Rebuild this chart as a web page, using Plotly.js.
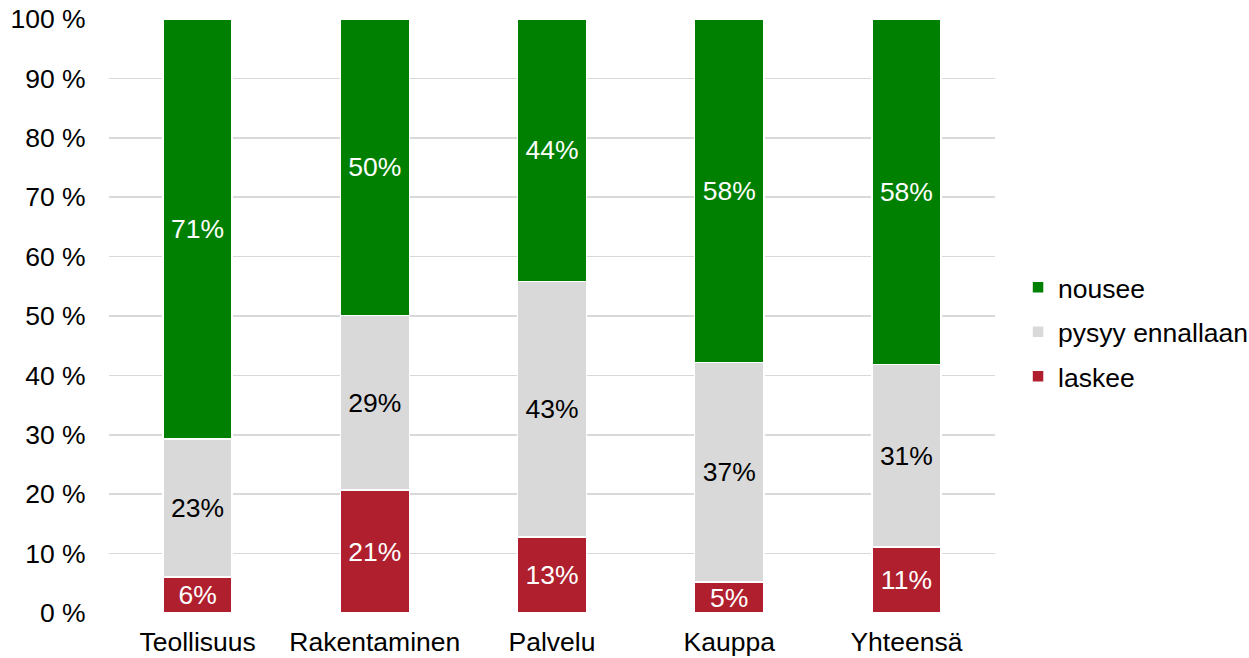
<!DOCTYPE html>
<html>
<head>
<meta charset="utf-8">
<script src="https://cdn.plot.ly/plotly-3.0.1.min.js"></script>
<style>html,body{margin:0;padding:0;background:#fff;}#chart{width:1249px;height:658px;}</style>
</head>
<body>
<div id="chart"></div>
<script>
const categories = ["Teollisuus", "Rakentaminen", "Palvelu", "Kauppa", "Yhteensä"];
const laskee = [6.1, 20.7, 12.8, 5.2, 11.1];
const pysyy = [23.2, 29.4, 43.0, 37.0, 30.7];
const nousee = [70.7, 49.9, 44.2, 57.8, 58.2];
const seriesNames = ["laskee", "pysyy ennallaan", "nousee"];
const yTickVals = [0, 10, 20, 30, 40, 50, 60, 70, 80, 90, 100];
const yTickText = yTickVals.map(v => v + " %");

const font = "Liberation Sans, Arial, sans-serif";
const fs = 26.5;
function mk(name, vals, color, txtColor, rank) {
  return {
    type: "bar", name: name, x: categories, y: vals, legendgroup: name, legendrank: rank,
    marker: {color: color, line: {color: "#ffffff", width: 1.5}},
    text: vals.map(v => Math.round(v) + "%"),
    textposition: "inside", insidetextanchor: "middle", textangle: 0,
    constraintext: "none",
    insidetextfont: {family: font, size: fs, color: txtColor},
    hoverinfo: "skip"
  };
}
const data = [
  mk(seriesNames[0], laskee, "#B01F2E", "#ffffff", 3),
  mk(seriesNames[1], pysyy, "#D9D9D9", "#000000", 2),
  mk(seriesNames[2], nousee, "#008000", "#ffffff", 1)
];
const layout = {
  width: 1249, height: 658,
  margin: {l: 109, r: 254, t: 19, b: 45, pad: 0, autoexpand: false},
  barmode: "stack", bargap: 0.61,
  paper_bgcolor: "#fff", plot_bgcolor: "#fff",
  font: {family: font, size: fs, color: "#000"},
  showlegend: true,
  legend: {x: 1.026, y: 0.473, yanchor: "middle", xanchor: "left", traceorder: "grouped",
           font: {family: font, size: fs, color: "#000"}, itemwidth: 30, tracegroupgap: 7},
  xaxis: {showgrid: false, zeroline: false, showline: false, ticks: "outside", ticklen: 5,
          tickcolor: "rgba(0,0,0,0)", tickfont: {family: font, size: fs}},
  yaxis: {range: [0, 100], tickvals: yTickVals, ticktext: yTickText, showgrid: true,
          gridcolor: "#D9D9D9", gridwidth: 1.5, zeroline: false, showline: false,
          ticks: "outside", ticklen: 17, tickcolor: "rgba(0,0,0,0)",
          tickfont: {family: font, size: fs}}
};
Plotly.newPlot("chart", data, layout, {displayModeBar: false, staticPlot: true});
</script>
</body>
</html>
